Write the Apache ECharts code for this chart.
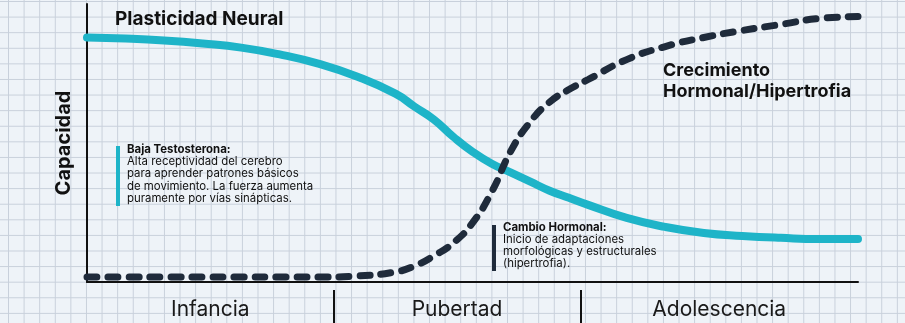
<!DOCTYPE html>
<html><head><meta charset="utf-8">
<script src="https://cdn.jsdelivr.net/npm/echarts@6/dist/echarts.min.js"></script>
<style>
html,body{margin:0;padding:0;width:905px;height:323px;overflow:hidden;}
body{background-color:#eef3f8;background-image:linear-gradient(to right,#c8d0db 1px,transparent 1px),linear-gradient(to bottom,#c8d0db 1px,transparent 1px);background-size:15.6px 15.6px;background-position:8px 1px;}
#c{width:905px;height:323px;}
</style></head><body><div id="c"></div>
<script>
// Normalized development time (0-100)
const xValues = [0,5,10,15,20,25,30,35,40,42.5,45,47.5,50,52.5,55,57.5,60,62.5,65,70,75,80,85,90,95,100];
// Plasticidad Neural (capacidad)
const plasticidad = [89.7,89.3,88.6,87.5,86.0,83.5,80.1,75.4,69.1,64.3,59.6,53.3,47.8,43.4,40.1,36.8,33.5,30.9,28.3,23.5,20.2,18.0,16.9,16.2,15.8,15.8];
// Crecimiento Hormonal/Hipertrofia (capacidad)
const crecimiento = [1.8,1.8,1.8,1.8,1.8,1.8,1.8,2.2,3.7,5.9,9.6,14.3,21.7,33.1,48.2,58.8,66.0,70.6,74.3,81.6,86.4,89.7,92.3,94.5,96.7,97.4];
// Stages along the x axis
const stages = ['Infancia','Pubertad','Adolescencia'];
const stageBounds = [0,32,64,100];
const stageCenters = stageBounds.slice(0,-1).map((b,i)=>(b+stageBounds[i+1])/2);

const zip = (xs, ys) => xs.map((x,i)=>[x, ys[i]]);
const FONT = 'Inter, "Noto Sans", sans-serif';
const chart = echarts.init(document.getElementById('c'), null, {renderer:'canvas'});
chart.setOption({
  animation:false,
  backgroundColor:'transparent',
  grid:{left:87,right:47,top:4,bottom:41},
  xAxis:[{
    type:'value',min:0,max:100,
    axisLine:{show:true,lineStyle:{color:'#111',width:2}},
    axisTick:{show:false},axisLabel:{show:false},splitLine:{show:false}
  },{
    type:'value',min:0,max:100,position:'bottom',offset:8,
    axisLine:{show:false},
    axisTick:{show:true,customValues:stageBounds.slice(1,-1),length:33,lineStyle:{color:'#111',width:2}},
    axisLabel:{show:true,customValues:stageCenters,margin:9,fontSize:21,color:'#1a1a1a',fontFamily:FONT,
      formatter:(v)=>{let best=0;stageCenters.forEach((c,i)=>{if(Math.abs(c-v)<Math.abs(stageCenters[best]-v))best=i;});return stages[best];}},
    splitLine:{show:false}
  }],
  yAxis:{
    type:'value',min:0,max:102,
    name:'Capacidad',nameLocation:'middle',nameGap:13,
    nameTextStyle:{fontSize:20,fontWeight:'bold',color:'#111',fontFamily:FONT},
    axisLine:{show:true,lineStyle:{color:'#111',width:2}},
    axisTick:{show:false},axisLabel:{show:false},splitLine:{show:false}
  },
  series:[{
    name:'Plasticidad Neural',type:'line',xAxisIndex:0,data:zip(xValues,plasticidad),
    smooth:0.5,showSymbol:false,
    lineStyle:{color:'#1eb4c8',width:8,cap:'round'}
  },{
    name:'Crecimiento Hormonal/Hipertrofia',type:'line',xAxisIndex:0,data:zip(xValues,crecimiento),
    smooth:0.5,showSymbol:false,
    lineStyle:{color:'#1f2b3b',width:7,type:[10,11],cap:'round'}
  }],
  graphic:[
    {type:'text',left:115,top:10,style:{text:'Plasticidad Neural',font:'bold 19px '+FONT,fill:'#111'}},
    {type:'text',left:663,top:60,style:{text:'Crecimiento\nHormonal/Hipertrofia',font:'bold 18px '+FONT,lineHeight:21,fill:'#111'}},
    {type:'rect',shape:{x:116,y:146,width:4,height:60},style:{fill:'#1eb4c8'}},
    {type:'text',left:127,top:143,style:{
      text:'{b|Baja Testosterona:}\nAlta receptividad del cerebro\npara aprender patrones básicos\nde movimiento. La fuerza aumenta\npuramente por vías sinápticas.',
      font:'11.4px '+FONT,fill:'#111',lineHeight:12.4,
      rich:{b:{fontWeight:'bold',fontSize:11.4,fontFamily:FONT,fill:'#111',lineHeight:12.4}}}},
    {type:'rect',shape:{x:492,y:225,width:4,height:46},style:{fill:'#1f2b3b'}},
    {type:'text',left:503,top:222,style:{
      text:'{b|Cambio Hormonal:}\nInicio de adaptaciones\nmorfológicas y estructurales\n(hipertrofia).',
      font:'11.4px '+FONT,fill:'#111',lineHeight:12,
      rich:{b:{fontWeight:'bold',fontSize:11.4,fontFamily:FONT,fill:'#111',lineHeight:12}}}}
  ]
});
</script></body></html>
